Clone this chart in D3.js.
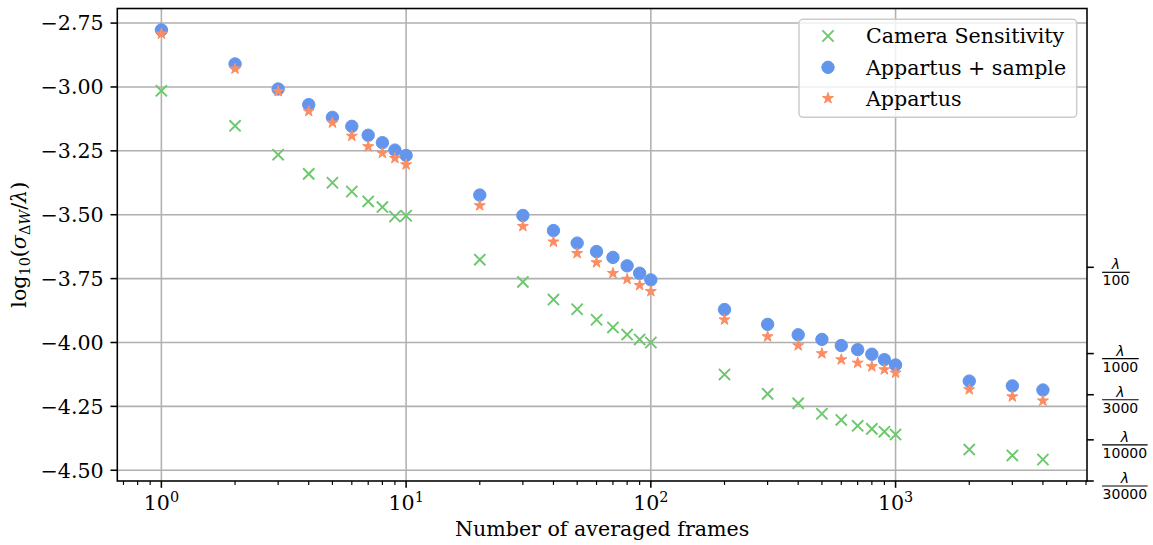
<!DOCTYPE html>
<html>
<head>
<meta charset="utf-8">
<script src="https://cdn.jsdelivr.net/npm/d3@7"></script>
<style>
  html, body { margin: 0; padding: 0; background: #fff; }
  svg { display: block; }
  text { font-family: "DejaVu Serif", serif; fill: #000; }
</style>
</head>
<body>
<svg id="chart" width="1153" height="545"></svg>
<script>
// ---- data ----
const frames = [1, 2, 3, 4, 5, 6, 7, 8, 9, 10,
                20, 30, 40, 50, 60, 70, 80, 90, 100,
                200, 300, 400, 500, 600, 700, 800, 900, 1000,
                2000, 3000, 4000];

const cameraSensitivity = [-3.015, -3.152, -3.265, -3.340, -3.375, -3.409, -3.448, -3.470, -3.507, -3.504,
                           -3.676, -3.763, -3.832, -3.870, -3.911, -3.941, -3.969, -3.988, -4.000,
                           -4.125, -4.201, -4.238, -4.279, -4.303, -4.326, -4.338, -4.349, -4.360,
                           -4.419, -4.442, -4.458];

const apparatusSample = [-2.777, -2.910, -3.008, -3.069, -3.119, -3.154, -3.189, -3.218, -3.247, -3.268,
                         -3.423, -3.503, -3.562, -3.611, -3.644, -3.667, -3.700, -3.729, -3.755,
                         -3.871, -3.929, -3.970, -3.988, -4.012, -4.028, -4.046, -4.067, -4.088,
                         -4.151, -4.170, -4.186];

const apparatus = [-2.792, -2.929, -3.017, -3.095, -3.140, -3.192, -3.233, -3.259, -3.279, -3.304,
                   -3.464, -3.545, -3.606, -3.651, -3.687, -3.729, -3.752, -3.776, -3.800,
                   -3.911, -3.977, -4.012, -4.043, -4.067, -4.080, -4.094, -4.106, -4.119,
                   -4.184, -4.212, -4.228];

const xTickValues = [1, 10, 100, 1000];
const yTickValues = [-2.75, -3.00, -3.25, -3.50, -3.75, -4.00, -4.25, -4.50];
const waveDenominators = [100, 1000, 3000, 10000, 30000];
const waveDomain = [0.1, 30000];

const seriesNames = ["Camera Sensitivity", "Appartus + sample", "Appartus"];

// ---- layout ----
const W = 1153, H = 545;
const plot = { left: 117.3, right: 1087, top: 8.5, bottom: 481 };
const px = 140 / 72;            // points -> pixels
const fontSize = 20.6;
const colors = { camera: "#6cc86c", sample: "#6495ed", app: "#fc8d62" };

const svg = d3.select("#chart");

// matplotlib-style 5% margins (log space for x)
const lx = d3.extent(frames).map(Math.log10);
const padX = (lx[1] - lx[0]) * 0.05;
const x = d3.scaleLog()
  .domain([Math.pow(10, lx[0] - padX), Math.pow(10, lx[1] + padX)])
  .range([plot.left, plot.right]);

const allY = cameraSensitivity.concat(apparatusSample, apparatus);
const ey = d3.extent(allY);
const padY = (ey[1] - ey[0]) * 0.05;
const y = d3.scaleLinear()
  .domain([ey[0] - padY, ey[1] + padY])
  .range([plot.bottom, plot.top]);

const yWave = d3.scaleLog().domain(waveDomain).range([plot.top, plot.bottom]);

// ---- grid ----
const grid = svg.append("g").attr("stroke", "#b0b0b0").attr("stroke-width", 0.8 * px);
xTickValues.forEach(v => {
  grid.append("line").attr("x1", x(v)).attr("x2", x(v))
    .attr("y1", plot.top).attr("y2", plot.bottom);
});
yTickValues.forEach(v => {
  grid.append("line").attr("x1", plot.left).attr("x2", plot.right)
    .attr("y1", y(v)).attr("y2", y(v));
});

// ---- markers ----
svg.append("defs").append("clipPath").attr("id", "plotclip")
  .append("rect").attr("x", plot.left).attr("y", plot.top)
  .attr("width", plot.right - plot.left).attr("height", plot.bottom - plot.top);

const marks = svg.append("g").attr("clip-path", "url(#plotclip)");

function starPath(R) {
  const r = R * 0.381966;
  const pts = [];
  for (let i = 0; i < 10; i++) {
    const a = -Math.PI / 2 + i * Math.PI / 5;
    const rr = i % 2 === 0 ? R : r;
    pts.push([rr * Math.cos(a), rr * Math.sin(a)]);
  }
  return "M" + pts.map(p => p[0].toFixed(2) + "," + p[1].toFixed(2)).join("L") + "Z";
}
const xHalf = 5.6;
function crossPath(h) {
  return `M${-h},${-h}L${h},${h}M${-h},${h}L${h},${-h}`;
}

marks.append("g").selectAll("path").data(frames.map((f, i) => [f, cameraSensitivity[i]]))
  .join("path")
  .attr("d", crossPath(xHalf))
  .attr("transform", d => `translate(${x(d[0])},${y(d[1])})`)
  .attr("stroke", colors.camera).attr("stroke-width", 1.0 * px).attr("fill", "none");

marks.append("g").selectAll("circle").data(frames.map((f, i) => [f, apparatusSample[i]]))
  .join("circle")
  .attr("cx", d => x(d[0])).attr("cy", d => y(d[1])).attr("r", 6.2)
  .attr("fill", colors.sample).attr("stroke", colors.sample).attr("stroke-width", 1);

marks.append("g").selectAll("path").data(frames.map((f, i) => [f, apparatus[i]]))
  .join("path")
  .attr("d", starPath(5.8))
  .attr("transform", d => `translate(${x(d[0])},${y(d[1])})`)
  .attr("fill", colors.app).attr("stroke", colors.app).attr("stroke-width", 1)
  .attr("stroke-linejoin", "miter");

// ---- axes frame ----
const frame = svg.append("g").attr("stroke", "#000").attr("stroke-width", 0.8 * px).attr("fill", "none");
frame.append("rect").attr("x", plot.left).attr("y", plot.top)
  .attr("width", plot.right - plot.left).attr("height", plot.bottom - plot.top);

const majorLen = 3.5 * px, minorLen = 2 * px, pad = 3.5 * px;

// x ticks: major + minor
const [dx0, dx1] = x.domain();
const minor = [];
for (let e = Math.floor(Math.log10(dx0)); e <= Math.ceil(Math.log10(dx1)); e++) {
  for (let m = 2; m <= 9; m++) {
    const v = m * Math.pow(10, e);
    if (v >= dx0 && v <= dx1) minor.push(v);
  }
}
minor.forEach(v => {
  frame.append("line").attr("x1", x(v)).attr("x2", x(v))
    .attr("y1", plot.bottom).attr("y2", plot.bottom + minorLen).attr("stroke-width", 0.6 * px);
});
xTickValues.forEach(v => {
  frame.append("line").attr("x1", x(v)).attr("x2", x(v))
    .attr("y1", plot.bottom).attr("y2", plot.bottom + majorLen);
  const t = svg.append("text").attr("x", x(v)).attr("y", plot.bottom + 28.5)
    .attr("text-anchor", "middle").style("font-size", fontSize + "px");
  t.append("tspan").text("10");
  t.append("tspan").attr("dy", -8).style("font-size", (fontSize * 0.7) + "px")
    .text(String(Math.round(Math.log10(v))));
});

// y ticks (left)
yTickValues.forEach(v => {
  frame.append("line").attr("x1", plot.left - majorLen).attr("x2", plot.left)
    .attr("y1", y(v)).attr("y2", y(v));
  svg.append("text").attr("x", plot.left - majorLen - pad).attr("y", y(v))
    .attr("dy", "0.36em").attr("text-anchor", "end").style("font-size", fontSize + "px")
    .text(d3.format(".2f")(v).replace("-", "\u2212"));
});

// right axis: fractions of the wavelength
const fracSize = 14;
waveDenominators.forEach(d => {
  const yy = yWave(d);
  frame.append("line").attr("x1", plot.right).attr("x2", plot.right + majorLen)
    .attr("y1", yy).attr("y2", yy);
  const numStr = String(d);
  const barW = numStr.length * 0.636 * fracSize + 1;
  const x0 = plot.right + majorLen + pad + 1.5;
  const barY = yy + 5;
  svg.append("line").attr("x1", x0).attr("x2", x0 + barW)
    .attr("y1", barY).attr("y2", barY).attr("stroke", "#000").attr("stroke-width", 1.2);
  svg.append("text").attr("x", x0 + barW / 2).attr("y", barY - 3)
    .attr("text-anchor", "middle")
    .style("font-family", "'DejaVu Sans', sans-serif").style("font-style", "italic")
    .style("font-size", fracSize + "px").text("\u03bb");
  svg.append("text").attr("x", x0 + barW / 2).attr("y", barY + 13)
    .attr("text-anchor", "middle")
    .style("font-family", "'DejaVu Sans', sans-serif")
    .style("font-size", fracSize + "px").text(numStr);
});

// ---- axis labels ----
svg.append("text").attr("x", (plot.left + plot.right) / 2).attr("y", 536)
  .attr("text-anchor", "middle").style("font-size", fontSize + "px")
  .text("Number of averaged frames");

const yl = svg.append("text")
  .attr("transform", `translate(26,${(plot.top + plot.bottom) / 2}) rotate(-90)`)
  .attr("text-anchor", "middle").style("font-size", fontSize + "px");
yl.append("tspan").text("log");
yl.append("tspan").attr("dy", 4).style("font-size", (fontSize * 0.7) + "px").text("10");
yl.append("tspan").attr("dy", -4).text("(");
yl.append("tspan").style("font-style", "italic").text("\u03c3");
yl.append("tspan").attr("dy", 4).style("font-size", (fontSize * 0.7) + "px").text("\u0394");
yl.append("tspan").style("font-size", (fontSize * 0.7) + "px").style("font-style", "italic").text("W");
yl.append("tspan").attr("dy", -4).text("/");
yl.append("tspan").style("font-style", "italic").text("\u03bb");
yl.append("tspan").text(")");

// ---- legend ----
const lg = svg.append("g");
lg.append("rect").attr("x", 799).attr("y", 19.3).attr("width", 277.7).attr("height", 98)
  .attr("rx", 4).attr("ry", 4)
  .attr("fill", "#fff").attr("fill-opacity", 0.8)
  .attr("stroke", "#cccccc").attr("stroke-width", 1.5);
const rows = [36, 67.3, 98.3];
const hx = 828, tx = 866;
lg.append("path").attr("d", crossPath(xHalf)).attr("transform", `translate(${hx},${rows[0]})`)
  .attr("stroke", colors.camera).attr("stroke-width", 1.0 * px).attr("fill", "none");
lg.append("circle").attr("cx", hx).attr("cy", rows[1]).attr("r", 6.2)
  .attr("fill", colors.sample).attr("stroke", colors.sample);
lg.append("path").attr("d", starPath(5.8)).attr("transform", `translate(${hx},${rows[2]})`)
  .attr("fill", colors.app).attr("stroke", colors.app);
seriesNames.forEach((name, i) => {
  lg.append("text").attr("x", tx).attr("y", rows[i]).attr("dy", "0.36em")
    .style("font-size", fontSize + "px").text(name);
});
</script>
</body>
</html>
